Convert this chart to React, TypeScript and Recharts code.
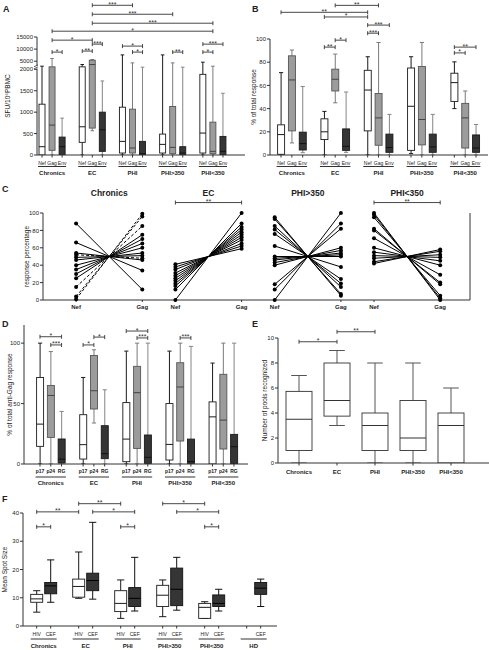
import { Bar, ComposedChart, Line, ReferenceDot, ReferenceLine, XAxis, YAxis } from "recharts";

const FONT = "'Liberation Sans', Arial, Helvetica, sans-serif";
const INK = "#222";

const GROUPS = ["Chronics", "EC", "PHI", "PHI>350", "PHI<350"];

// Box data: each entry is [min, q1, median, q3, max]
// A — SFU/10^6 PBMC
const A_NEF = [[0, 0, 194, 1186, 2945], [0, 295, 659, 2671, 3630], [0, 46, 318, 1116, 7600], [0, 46, 248, 488, 7600], [0, 46, 512, 1883, 4589]];
const A_GAG = [[0, 109, 698, 2671, 6100], [566, 628, 3630, 5411, 5685], [0, 46, 163, 1070, 4315], [0, 31, 178, 1132, 4315], [0, 31, 85, 767, 2945]];
const A_ENV = [[0, 0, 194, 418, 860], [0, 85, 589, 1000, 1728], [0, 0, 31, 318, 2534], [0, 0, 46, 194, 2534], [0, 0, 85, 434, 1441]];
const A_TICKS = [0, 500, 1000, 1500, 2000, 5000, 10000, 15000];
const A_SIG: [string, string, number, string][] = [
  ["EC|Gag", "PHI|Gag", 28100, "***"],
  ["EC|Gag", "PHI>350|Gag", 24400, "***"],
  ["EC|Gag", "PHI<350|Gag", 20700, "***"],
  ["Chronics|Gag", "PHI<350|Gag", 17400, "*"],
  ["Chronics|Gag", "EC|Gag", 13700, "*"],
  ["Chronics|Gag", "Chronics|Env", 8760, "*"],
  ["EC|Nef", "EC|Gag", 9190, "**"],
  ["EC|Gag", "EC|Env", 12050, "***"],
  ["PHI|Nef", "PHI|Env", 11240, "*"],
  ["PHI|Gag", "PHI|Env", 8760, "*"],
  ["PHI>350|Gag", "PHI>350|Env", 8760, "**"],
  ["PHI<350|Nef", "PHI<350|Gag", 8760, "*"],
  ["PHI<350|Nef", "PHI<350|Env", 12050, "***"],
];

// B — % of total response
const B_NEF = [[0, 0.6, 17.6, 26, 71], [0, 13.3, 20, 31.2, 37.6], [0, 20.8, 56, 73, 84.7], [1.2, 4, 42, 75, 84.7], [40, 46.2, 62.4, 70.5, 80.3]];
const B_GAG = [[10.4, 20.8, 64.7, 85.5, 90.5], [45, 55.2, 65.3, 74, 87], [0, 8.4, 32, 53, 97], [0, 8.7, 30.6, 76.3, 97], [0, 6, 32, 44.5, 55.2]];
const B_ENV = [[2, 4.3, 9.8, 19.7, 59], [2.3, 4, 7.5, 22.5, 54.3], [0, 2.3, 6.4, 18, 35], [0, 2.3, 7, 18, 35], [0, 2.3, 6, 17.3, 26.3]];
const B_SIG: [string, string, number, string][] = [
  ["EC|Gag", "PHI|Gag", 129, "**"],
  ["Chronics|Nef", "PHI|Nef", 123, "**"],
  ["EC|Nef", "PHI|Nef", 119, "*"],
  ["PHI|Nef", "PHI|Env", 112, "***"],
  ["PHI|Nef", "PHI|Gag", 105, "***"],
  ["EC|Gag", "EC|Env", 99, "*"],
  ["EC|Nef", "EC|Gag", 93, "**"],
  ["PHI<350|Nef", "PHI<350|Env", 93, "**"],
  ["PHI<350|Nef", "PHI<350|Gag", 88, "*"],
];

// C — response percentage per subject (Nef vs Gag)
const C_TITLES = ["Chronics", "EC", "PHI>350", "PHI<350"];
const C_CHR_NEF = [88, 66, 54, 52, 49, 46, 40, 35, 30, 25, 15, 4, 1];
const C_CHR_GAG = [12, 34, 46, 48, 51, 54, 60, 65, 70, 75, 85, 96, 99];
const C_CHR_DASHED = [3, 10, 11, 12];
const C_EC_NEF = [41, 38, 35, 31, 28, 25, 22, 19, 16, 12, 0];
const C_EC_GAG = [59, 62, 65, 69, 72, 75, 78, 81, 84, 88, 100];
const C_HI_NEF = [95, 93, 85, 81, 76, 62, 50, 48, 46, 43, 40, 18, 12, 0];
const C_HI_GAG = [5, 7, 15, 19, 24, 38, 50, 52, 54, 57, 60, 82, 88, 100];
const C_LO_NEF = [100, 98, 95, 82, 80, 71, 60, 55, 51, 48, 44, 42];
const C_LO_GAG = [0, 2, 5, 18, 20, 29, 40, 45, 49, 52, 56, 58];

// D — % of total anti-Gag response
const D_P17 = [[0, 14.6, 33, 71.6, 100], [0, 4.1, 16, 40.8, 71.6], [0, 1.9, 20.6, 50.8, 93.4], [0, 3.3, 16.2, 50, 93.4], [0, 0, 39, 51.4, 83.5]];
const D_P24 = [[0, 22, 56.7, 65, 93], [33.9, 45.5, 60.6, 89.8, 94.5], [0, 12.9, 59, 80.8, 100], [0, 19, 63.7, 83.8, 100], [0, 12.4, 36.3, 74.2, 100]];
const D_RG = [[0, 0.8, 4, 20.7, 43.5], [0, 4.4, 8.5, 31.7, 61.4], [0, 0.5, 5.5, 24, 100], [0, 0.5, 2, 20.6, 97.3], [0, 0, 14.3, 24.5, 100]];
const D_SIG: [string, string, number, string][] = [
  ["Chronics|p17", "Chronics|RG", 105.3, "*"],
  ["Chronics|p24", "Chronics|RG", 98.5, "***"],
  ["EC|p17", "EC|p24", 98.5, "*"],
  ["EC|p24", "EC|RG", 105, "*"],
  ["PHI|p17", "PHI|RG", 110, "*"],
  ["PHI|p24", "PHI|RG", 104.3, "***"],
  ["PHI>350|p24", "PHI>350|RG", 104.3, "***"],
];

// E — number of pools recognized
const E_POOLS = [[0, 1, 3.5, 5.73, 7], [3, 3.75, 5, 8, 9], [0, 1, 3, 4, 8], [0, 1, 2, 5, 8], [0, 0, 3, 4, 6]];
const E_SIG: [string, string, number, string][] = [
  ["Chronics|", "EC|", 9.7, "*"],
  ["EC|", "PHI|", 10.5, "**"],
];

// F — mean spot size
const F_GROUPS = [...GROUPS, "HD"];
const F_HIV = [[4.9, 8.4, 9.6, 11.2, 12.5], [9.8, 10.2, 14, 16.6, 26.2], [2.7, 5.1, 8, 12.5, 16.3], [3.3, 6.9, 10.9, 14.4, 16.3], [2.7, 2.7, 6.6, 8, 8.6], null];
const F_CEF = [[8.4, 11.4, 14.2, 15.4, 23.4], [9.5, 12.5, 16.1, 18.7, 36.7], [5.3, 6.9, 9.8, 13.6, 24.3], [5.6, 7.2, 13, 20.5, 24.3], [5.3, 6.9, 8, 11, 13], [6.9, 11.2, 13.4, 15.4, 16.6]];
const F_SIG: [string, string, number, string][] = [
  ["EC|HIV", "PHI|HIV", 43.3, "**"],
  ["PHI>350|HIV", "PHI<350|HIV", 43.3, "*"],
  ["Chronics|HIV", "EC|HIV", 40.4, "**"],
  ["EC|CEF", "PHI|CEF", 40.4, "*"],
  ["PHI>350|CEF", "PHI<350|CEF", 40.4, "*"],
  ["Chronics|HIV", "Chronics|CEF", 35.1, "*"],
  ["PHI|HIV", "PHI|CEF", 35.1, "*"],
  ["PHI<350|HIV", "PHI<350|CEF", 35.1, "*"],
];

const STY: Record<string, { fill: string; stroke: string; whisk: string; med: string }> = {
  white: { fill: "#fff", stroke: "#1a1a1a", whisk: "#1a1a1a", med: "#1a1a1a" },
  gray: { fill: "#9c9c9c", stroke: "#555", whisk: "#7a7a7a", med: "#444" },
  dark: { fill: "#353535", stroke: "#1a1a1a", whisk: "#858585", med: "#111" },
  darkF: { fill: "#353535", stroke: "#111", whisk: "#111", med: "#000" },
  whiteE: { fill: "#fff", stroke: "#333", whisk: "#555", med: "#333" },
};

type Series = { name: string; kind: string; values: (number[] | null)[] };
type Slot = { k: string; sub: string; group: string; head: boolean; n: number; gap: boolean; box: number[] | null; range: number[] | null; kind: string };

function buildSlots(groups: string[], series: Series[], tf = (v: number) => v): Slot[] {
  const out: Slot[] = [];
  groups.forEach((g, gi) => {
    if (gi > 0 && series.length > 1) {
      out.push({ k: `gap${gi}`, sub: "", group: "", head: false, n: 0, gap: true, box: null, range: null, kind: "white" });
    }
    series.forEach((s, si) => {
      const raw = s.values[gi];
      const box = raw ? raw.map(tf) : null;
      out.push({ k: `${g}|${s.name}`, sub: s.name, group: g, head: si === 0, n: series.length, gap: false, box, range: box ? [box[0], box[4]] : null, kind: s.kind });
    });
  });
  return out;
}

function BoxShape(p: any) {
  const b: number[] | null = p.payload?.box;
  if (!b || !isFinite(p.y)) return <g />;
  const st = STY[p.payload.kind];
  const top = Math.min(p.y, p.y + p.height);
  const h = Math.abs(p.height);
  const lo = b[0];
  const hi = b[4];
  const py = (v: number) => (hi === lo ? top : top + (h * (hi - v)) / (hi - lo));
  const w = p.width;
  const cx = p.x + w / 2;
  const cw = w * 0.6;
  return (
    <g>
      <line x1={cx} x2={cx} y1={py(hi)} y2={py(b[3])} stroke={st.whisk} />
      <line x1={cx} x2={cx} y1={py(b[1])} y2={py(lo)} stroke={st.whisk} />
      <line x1={cx - cw / 2} x2={cx + cw / 2} y1={py(hi)} y2={py(hi)} stroke={st.whisk} />
      <line x1={cx - cw / 2} x2={cx + cw / 2} y1={py(lo)} y2={py(lo)} stroke={st.whisk} />
      <rect x={p.x} y={py(b[3])} width={w} height={Math.max(0.5, py(b[1]) - py(b[3]))} fill={st.fill} stroke={st.stroke} strokeWidth={0.9} />
      <line x1={p.x} x2={p.x + w} y1={py(b[2])} y2={py(b[2])} stroke={st.med} strokeWidth={1} />
    </g>
  );
}

const bracket = (t: string) => (p: any) => {
  const { x1, x2, y1 } = p;
  return (
    <g>
      <path d={`M${x1},${y1 - 2}V${y1 + 2}M${x1},${y1}H${x2}M${x2},${y1 - 2}V${y1 + 2}`} fill="none" stroke="#333" strokeWidth={0.9} />
      <text x={(x1 + x2) / 2} y={y1 + 1.5} textAnchor="middle" fontSize={7} fill="#333">{t}</text>
    </g>
  );
};

type Lab = { sub: number; line: number; grp: number; showSub: boolean; underline: boolean; subBold?: boolean; grpSize: number };

function makeSlotTick(slots: Slot[], band: number, o: Lab) {
  const map = new Map(slots.map((s) => [s.k, s]));
  return (p: any) => {
    const s = map.get(p.payload?.value);
    if (!s || s.gap) return <g />;
    const x = p.x;
    const y = p.y;
    const gc = x + ((s.n - 1) / 2) * band;
    const half = (s.n * band) / 2 - 1;
    return (
      <g>
        <line x1={x} x2={x} y1={y} y2={y + 2.5} stroke="#333" />
        {o.showSub && s.box && (
          <text x={x} y={y + o.sub} textAnchor="middle" fontSize={5} fontWeight={o.subBold ? "bold" : "normal"} fill={INK}>{s.sub}</text>
        )}
        {s.head && o.underline && <line x1={gc - half} x2={gc + half} y1={y + o.line} y2={y + o.line} stroke="#333" />}
        {s.head && (
          <text x={gc} y={y + o.grp} textAnchor="middle" fontSize={o.grpSize} fontWeight="bold" fill={INK}>{s.group}</text>
        )}
      </g>
    );
  };
}

type PanelCfg = {
  left: number; top: number; width: number; height: number;
  margin: { top: number; right: number; bottom: number; left: number };
  yWidth: number; xHeight: number; padL: number; padR: number;
  slots: Slot[]; barSize: number;
  domain: [number, number]; ticks: number[]; fmt?: (v: number) => string;
  breakAt?: number;
  yLabel: string; yLabelX: number; sig: [string, string, number, string][];
  tf?: (v: number) => number; lab: Lab;
};

const AXIS = { stroke: "#333", strokeWidth: 1 };
const TICK = { fontSize: 6, fill: INK };

// y tick with optional axis-break mark (panel A)
function makeYTick(fmt: ((v: number) => string) | undefined, breakAt: number | undefined) {
  return (p: any) => {
    const v = p.payload?.value;
    const ax = p.x + 4;
    return (
      <g>
        <text x={p.x} y={p.y} dy="0.35em" textAnchor="end" fontSize={6} fill={INK}>{fmt ? fmt(v) : v}</text>
        {breakAt !== undefined && v === breakAt && (
          <g>
            <rect x={ax - 3} y={p.y - 3.5} width={6} height={2.5} fill="#fff" />
            <line x1={ax - 3} x2={ax + 1} y1={p.y - 0.5} y2={p.y - 2.5} stroke="#333" strokeWidth={0.8} />
            <line x1={ax - 3} x2={ax + 1} y1={p.y - 2.5} y2={p.y - 4.5} stroke="#333" strokeWidth={0.8} />
          </g>
        )}
      </g>
    );
  };
}

function BoxPanel({ c }: { c: PanelCfg }) {
  const plotW = c.width - c.margin.left - c.margin.right - c.yWidth;
  const band = (plotW - c.padL - c.padR) / c.slots.length;
  const tf = c.tf ?? ((v: number) => v);
  return (
    <div style={{ position: "absolute", left: c.left, top: c.top }}>
      <ComposedChart width={c.width} height={c.height} data={c.slots} margin={c.margin}>
        <XAxis dataKey="k" type="category" interval={0} height={c.xHeight} padding={{ left: c.padL, right: c.padR }}
          axisLine={AXIS} tickLine={false} tickSize={0} tickMargin={0} tick={makeSlotTick(c.slots, band, c.lab)} />
        <YAxis type="number" domain={c.domain} ticks={c.ticks} interval={0} width={c.yWidth}
          axisLine={AXIS} tickLine={{ stroke: "#333" }} tickSize={3} tickMargin={1} tick={makeYTick(c.fmt, c.breakAt)} allowDataOverflow
          label={{ value: c.yLabel, angle: -90, position: "insideLeft", offset: c.yLabelX, style: { textAnchor: "middle", fontSize: 6.5, fill: INK } }} />
        <Bar dataKey="range" barSize={c.barSize} shape={BoxShape} isAnimationActive={false} />
        {c.sig.map(([a, b, v, t], i) => (
          <ReferenceLine key={i} segment={[{ x: a, y: tf(v) }, { x: b, y: tf(v) }]} ifOverflow="visible" shape={bracket(t)} />
        ))}
      </ComposedChart>
    </div>
  );
}

const tfA = (v: number) => (v <= 2000 ? v : 2020 + (v - 2000) * 0.0565);
const A_TICK_POS = A_TICKS.map(tfA);

const PANEL_A: PanelCfg = {
  left: 0, top: 0, width: 250, height: 180, margin: { top: 37, right: 5, bottom: 0, left: 0 },
  yWidth: 37, xHeight: 25, padL: 0, padR: 17, barSize: 6,
  slots: buildSlots(GROUPS, [
    { name: "Nef", kind: "white", values: A_NEF },
    { name: "Gag", kind: "gray", values: A_GAG },
    { name: "Env", kind: "dark", values: A_ENV },
  ], tfA),
  domain: [0, tfA(15000)], ticks: A_TICK_POS,
  fmt: (v) => String(A_TICKS[A_TICK_POS.indexOf(v)] ?? ""), breakAt: 2000,
  yLabel: "SFU/10⁶PBMC", yLabelX: 8, sig: A_SIG, tf: tfA,
  lab: { sub: 9.5, line: 11.5, grp: 20, showSub: true, underline: true, grpSize: 6 },
};

const PANEL_B: PanelCfg = {
  left: 240, top: 0, width: 249, height: 180, margin: { top: 39, right: 1, bottom: 0, left: 0 },
  yWidth: 30, xHeight: 25, padL: 5.6, padR: 6.6, barSize: 7,
  slots: buildSlots(GROUPS, [
    { name: "Nef", kind: "white", values: B_NEF },
    { name: "Gag", kind: "gray", values: B_GAG },
    { name: "Env", kind: "dark", values: B_ENV },
  ]),
  domain: [0, 100], ticks: [0, 20, 40, 60, 80, 100],
  yLabel: "% of total response", yLabelX: 14, sig: B_SIG,
  lab: { sub: 9.5, line: 11.5, grp: 20, showSub: true, underline: true, grpSize: 6 },
};

const PANEL_D: PanelCfg = {
  left: 0, top: 320, width: 250, height: 170, margin: { top: 5, right: 2, bottom: 0, left: 0 },
  yWidth: 24, xHeight: 26, padL: 10.6, padR: 8.6, barSize: 7,
  slots: buildSlots(GROUPS, [
    { name: "p17", kind: "white", values: D_P17 },
    { name: "p24", kind: "gray", values: D_P24 },
    { name: "RG", kind: "dark", values: D_RG },
  ]),
  domain: [0, 115], ticks: [0, 50, 100],
  yLabel: "% of total anti-Gag response", yLabelX: 10, sig: D_SIG,
  lab: { sub: 9, line: 13, grp: 21, showSub: true, underline: true, subBold: true, grpSize: 6 },
};

const PANEL_E: PanelCfg = {
  left: 245, top: 320, width: 244, height: 165, margin: { top: 18, right: 0, bottom: 0, left: 0 },
  yWidth: 33, xHeight: 22, padL: 2, padR: 19, barSize: 26,
  slots: buildSlots(GROUPS, [{ name: "", kind: "whiteE", values: E_POOLS }]),
  domain: [0, 10], ticks: [0, 2, 4, 6, 8, 10],
  yLabel: "Number of pools recognized", yLabelX: 20, sig: E_SIG,
  lab: { sub: 0, line: 0, grp: 11, showSub: false, underline: false, grpSize: 6 },
};

const PANEL_F: PanelCfg = {
  left: 0, top: 495, width: 285, height: 155, margin: { top: 18, right: 8, bottom: 0, left: 0 },
  yWidth: 23, xHeight: 24, padL: 6.7, padR: 9.3, barSize: 12,
  slots: buildSlots(F_GROUPS, [
    { name: "HIV", kind: "white", values: F_HIV },
    { name: "CEF", kind: "darkF", values: F_CEF },
  ]),
  domain: [0, 40], ticks: [0, 10, 20, 30, 40],
  yLabel: "Mean Spot Size", yLabelX: 5, sig: F_SIG,
  lab: { sub: 10, line: 13, grp: 21.5, showSub: true, underline: true, grpSize: 6 },
};

const C_SETS = [
  { nef: C_CHR_NEF, gag: C_CHR_GAG, dashed: C_CHR_DASHED },
  { nef: C_EC_NEF, gag: C_EC_GAG, dashed: [] as number[] },
  { nef: C_HI_NEF, gag: C_HI_GAG, dashed: [] as number[] },
  { nef: C_LO_NEF, gag: C_LO_GAG, dashed: [] as number[] },
];
const C_SIG: [number, number, number, string][] = [
  [3, 5, 112, "**"],
  [9, 11, 112, "**"],
];

function PanelC() {
  const subjects = C_SETS.flatMap((set, i) =>
    set.nef.map((n, j) => ({
      key: `${i}-${j}`,
      dashed: set.dashed.includes(j),
      pts: [{ x: 3 * i, y: n }, { x: 3 * i + 2, y: set.gag[j] }],
    }))
  );
  return (
    <div style={{ position: "absolute", left: 0, top: 175 }}>
      <ComposedChart width={489} height={145} margin={{ top: 38, right: 0, bottom: 0, left: 0 }}>
        <XAxis type="number" dataKey="x" domain={[-1, 11.9]} allowDataOverflow ticks={[0, 2, 3, 5, 6, 8, 9, 11]} interval={0}
          tickFormatter={(v) => (v % 3 === 0 ? "Nef" : "Gag")} height={20} axisLine={AXIS} tickLine={{ stroke: "#333" }}
          tickSize={2} tickMargin={3} tick={{ fontSize: 6, fontWeight: "bold", fill: INK }} />
        <YAxis yAxisId="l" type="number" domain={[0, 100]} ticks={[0, 20, 40, 60, 80, 100]} interval={0} width={43}
          axisLine={AXIS} tickLine={{ stroke: "#333" }} tickSize={3} tickMargin={1} tick={TICK}
          label={{ value: "response percentage", angle: -90, position: "insideLeft", offset: 27, style: { textAnchor: "middle", fontSize: 6.5, fill: INK } }} />
        <YAxis yAxisId="r" orientation="right" type="number" domain={[0, 100]} ticks={[20, 40, 60, 80, 100]} interval={0} width={19}
          axisLine={AXIS} tickLine={{ stroke: "#333" }} tickSize={3} tickMargin={1} tick={TICK} />
        {subjects.map((s) => (
          <Line key={s.key} yAxisId="l" data={s.pts} dataKey="y" stroke="#000" strokeWidth={1}
            strokeDasharray={s.dashed ? "3 2" : undefined}
            dot={{ r: 2, fill: "#000", stroke: "#000", strokeWidth: 0 }} activeDot={false} isAnimationActive={false} />
        ))}
        {C_TITLES.map((t, i) => (
          <ReferenceDot key={t} yAxisId="l" x={3 * i + 1} y={120} ifOverflow="visible"
            shape={(p: any) => (
              <text x={p.cx} y={p.cy} textAnchor="middle" fontSize={8.5} fontWeight="bold" fill={INK}>{t}</text>
            )} />
        ))}
        {C_SIG.map(([a, b, v, t], i) => (
          <ReferenceLine key={i} yAxisId="l" segment={[{ x: a, y: v }, { x: b, y: v }]} ifOverflow="visible" shape={bracket(t)} />
        ))}
      </ComposedChart>
    </div>
  );
}

const LETTERS: [string, number, number][] = [
  ["A", 3, 5], ["B", 252, 5], ["C", 2, 185], ["D", 2, 320], ["E", 252, 320], ["F", 2, 495],
];

export default function App() {
  return (
    <div style={{ position: "absolute", left: 0, top: 0, width: 489, height: 650, background: "#fff", fontFamily: FONT, overflow: "hidden" }}>
      <BoxPanel c={PANEL_A} />
      <BoxPanel c={PANEL_B} />
      <PanelC />
      <BoxPanel c={PANEL_D} />
      <BoxPanel c={PANEL_E} />
      <BoxPanel c={PANEL_F} />
      {LETTERS.map(([l, x, y]) => (
        <div key={l} style={{ position: "absolute", left: x, top: y, fontSize: 9, fontWeight: "bold", lineHeight: 1, color: INK }}>{l}</div>
      ))}
    </div>
  );
}
